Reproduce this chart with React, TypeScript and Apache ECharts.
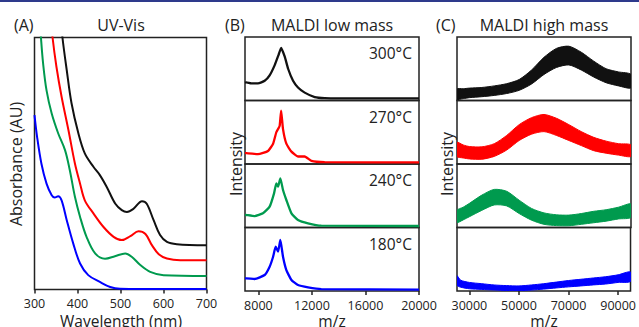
import React, { useEffect, useRef } from "react";
import * as echarts from "echarts";

const FONT = '"Open Sans", "Noto Sans", sans-serif';
const TEXT_COLOR = "#222222";
const FRAME_COLOR = "#222222";

const uvTicks = [300, 400, 500, 600, 700];
const lowMassTicks = [8000, 12000, 16000, 20000];
const highMassTicks = [30000, 50000, 70000, 90000];
const temperatures = ["300°C", "270°C", "240°C", "180°C"];
const colors = ["#111111", "#ff0000", "#009a4e", "#0000ff"];

// Panel A: UV-Vis spectra [wavelength nm, absorbance (arb.)]
const uvBlack = [
  [361, 108], [365, 100], [375, 87], [386, 74], [402, 62], [417, 54], [437, 48.7], [452, 45.4],
  [468, 40.7], [488, 34], [503, 31.5], [515, 30.8], [530, 32], [550, 35], [561, 34], [577, 27.5],
  [592, 21.6], [608, 18.9], [631, 18], [700, 17.6],
];
const uvRed = [
  [338, 108], [342, 100], [351, 88.4], [363, 76.5], [379, 63.2], [394, 50], [406, 42], [417, 35.4],
  [437, 30.2], [460, 24.9], [484, 20.9], [503, 19.6], [523, 21.2], [542, 23.1], [558, 22], [573, 17.6],
  [589, 14], [608, 12.3], [639, 11.6], [700, 11.6],
];
const uvGreen = [
  [312, 108], [315, 100], [320, 89.7], [328, 79], [340, 69.8], [355, 62], [371, 55.3], [382, 47.4],
  [394, 36.8], [406, 28.8], [421, 20.9], [441, 14.3], [464, 12.2], [487, 13.2], [511, 14.3], [526, 13],
  [546, 9.7], [569, 7], [600, 5.7], [700, 5.4],
];
const uvBlue = [
  [300, 69.2], [306, 60.6], [316, 50], [328, 42], [340, 37.4], [347, 36.5], [355, 37], [363, 35.4],
  [375, 27.5], [390, 18.3], [406, 10.3], [425, 5.7], [452, 3], [476, 1], [499, 0.3], [550, 0.2], [700, 0.2],
];

// Panel B: MALDI low mass [m/z, intensity %]
const low300 = [
  [7000, 28], [7100, 28.6], [7470, 27], [7970, 27], [8470, 31], [8840, 39.5], [9220, 55.7], [9510, 72],
  [9700, 83], [9970, 69], [10220, 50], [10590, 31], [10960, 20.5], [11460, 12.4], [12210, 5.4],
  [12950, 3.8], [15200, 3.2], [20000, 3.2],
];
const low270 = [
  [7000, 17], [7100, 17], [7970, 15.4], [8720, 20.5], [9100, 32], [9340, 50], [9470, 55], [9590, 60],
  [9700, 84], [9840, 55], [10090, 32], [10470, 19.5], [10960, 11.8], [11460, 11.8], [11960, 5],
  [12950, 3], [20000, 2.5],
];
const low240 = [
  [7000, 20], [7100, 19.7], [7720, 18], [8340, 22.3], [8840, 32.8], [9170, 53.8], [9340, 69.6],
  [9470, 64.3], [9640, 77.4], [9840, 59], [10090, 43.3], [10470, 22.3], [10960, 11.8], [11710, 6.6],
  [12700, 2.9], [20000, 2.4],
];
const low180 = [
  [7000, 20], [7100, 20], [7720, 18.9], [8470, 25.2], [8840, 38.3], [9100, 54], [9290, 69.8],
  [9470, 62], [9640, 80.3], [9840, 54], [10090, 33], [10470, 17.3], [10960, 9.4], [11710, 5.8],
  [12700, 3.1], [20000, 2.1],
];

// Panel C: MALDI high mass noisy bands [m/z, lower edge, upper edge]
const high300 = [
  [25000, 2, 18], [27500, 3, 18.5], [30000, 4.5, 19.5], [35000, 6, 20.5], [40000, 8, 23],
  [45000, 11, 26.5], [50000, 16, 33], [55000, 26, 48], [60000, 41, 68], [65000, 52, 82],
  [70000, 56, 85.5], [75000, 48, 76], [80000, 37, 62], [85000, 28, 50], [90000, 23, 45], [95000, 20, 41],
];
const high270 = [
  [25000, 12, 34], [27500, 9.5, 30], [30000, 8, 27.5], [35000, 7.5, 27], [40000, 12, 32],
  [45000, 22, 45], [50000, 37, 62], [55000, 47, 73], [60000, 51, 78], [65000, 45, 72],
  [70000, 37, 62], [75000, 29, 51], [80000, 21, 42], [85000, 17, 36], [90000, 14, 32], [95000, 12, 30],
];
const high240 = [
  [25000, 8, 27], [27500, 12, 32], [30000, 17, 38], [35000, 27, 51], [40000, 35.5, 60],
  [45000, 34, 57], [50000, 22, 43], [55000, 11.5, 30], [60000, 5, 23], [65000, 3, 20],
  [70000, 2.8, 19.5], [75000, 5, 22], [80000, 7.5, 25.5], [85000, 10, 28], [90000, 13.5, 32], [95000, 16, 37],
];
const high180 = [
  [25000, 9, 24], [26500, 6, 17], [30000, 3.5, 13.5], [35000, 2.5, 11.5], [40000, 1.6, 9.5],
  [45000, 0.8, 8.5], [50000, 0.5, 8], [55000, 1.5, 9.5], [60000, 3, 11.5], [65000, 4.8, 14],
  [70000, 6.5, 16.5], [75000, 8, 18.5], [80000, 9.6, 20.5], [85000, 11, 22.5], [90000, 13.5, 25.5], [95000, 15, 30],
];

const uvSeries = [uvBlack, uvRed, uvGreen, uvBlue];
const lowSeries = [low300, low270, low240, low180];
const highSeries = [high300, high270, high240, high180];

export default function App() {
  const ref = useRef<HTMLDivElement>(null);

  useEffect(() => {
    if (!ref.current) return;
    const chart = echarts.init(ref.current, null, { renderer: "svg" });

    const frame = { show: true, borderColor: FRAME_COLOR, borderWidth: 1.5, backgroundColor: "transparent" };
    const grids: any[] = [{ left: 34.5, top: 37.5, width: 172, height: 252, ...frame }];
    const subTop = 37;
    const subH = 63.5;
    for (let i = 0; i < 4; i++) grids.push({ left: 245, top: subTop + i * subH, width: 174, height: subH, ...frame });
    for (let i = 0; i < 4; i++) grids.push({ left: 457, top: subTop + i * subH, width: 174, height: subH, ...frame });

    const tickStyle = { show: true, inside: false, length: 4, lineStyle: { color: FRAME_COLOR, width: 1.5 } };
    const labelStyle = {
      color: TEXT_COLOR, fontSize: 12.5, fontFamily: FONT, lineHeight: 12,
      formatter: (v: number) => String(v),
    };

    const xAxes: any[] = [
      {
        gridIndex: 0, type: "value", min: uvTicks[0], max: uvTicks[uvTicks.length - 1], interval: 100,
        axisLine: { show: false }, splitLine: { show: false },
        axisTick: tickStyle, axisLabel: { ...labelStyle, margin: 8 },
      },
    ];
    for (let i = 0; i < 4; i++) {
      xAxes.push({
        gridIndex: 1 + i, type: "value", min: 7000, max: 20000,
        axisLine: { show: false }, splitLine: { show: false },
        axisTick: { ...tickStyle, show: i === 3, customValues: lowMassTicks },
        axisLabel: { ...labelStyle, show: i === 3, customValues: lowMassTicks, margin: 8 },
      });
    }
    for (let i = 0; i < 4; i++) {
      xAxes.push({
        gridIndex: 5 + i, type: "value", min: 25000, max: 95000,
        axisLine: { show: false }, splitLine: { show: false },
        axisTick: { ...tickStyle, show: i === 3, customValues: highMassTicks },
        axisLabel: { ...labelStyle, show: i === 3, customValues: highMassTicks, margin: 8 },
      });
    }
    const yAxes: any[] = [];
    for (let g = 0; g < 9; g++) yAxes.push({ gridIndex: g, type: "value", min: 0, max: 100, show: false });

    const series: any[] = [];
    uvSeries.forEach((d, i) => {
      series.push({
        type: "line", xAxisIndex: 0, yAxisIndex: 0, data: d, smooth: 0.35, showSymbol: false,
        lineStyle: { color: colors[i], width: 2 }, z: 3,
      });
    });
    lowSeries.forEach((d, i) => {
      series.push({
        type: "line", xAxisIndex: 1 + i, yAxisIndex: 1 + i, data: d, smooth: 0.15, showSymbol: false,
        lineStyle: { color: colors[i], width: 2.3 }, z: 3,
      });
    });
    highSeries.forEach((band, i) => {
      const color = colors[i];
      series.push({
        type: "custom", xAxisIndex: 5 + i, yAxisIndex: 5 + i, data: band, clip: true, z: 3,
        encode: { x: 0, y: [1, 2] },
        renderItem: (params: any, api: any) => {
          if (params.dataIndex !== 0) return null;
          const lower = band.map((p) => api.coord([p[0], p[1]]));
          const upper = band.map((p) => api.coord([p[0], p[2]])).reverse();
          return {
            type: "polygon",
            shape: { points: lower.concat(upper), smooth: 0.25 },
            style: { fill: color, stroke: color, lineWidth: 1 },
          };
        },
      });
    });

    const txt = (text: string, x: number, y: number, opts: any = {}) => ({
      type: "text", x, y, rotation: opts.rotation || 0, silent: true,
      style: {
        text, fill: TEXT_COLOR, font: `${opts.size || 16}px ${FONT}`,
        lineHeight: opts.lineHeight || undefined,
        align: opts.align || "center", verticalAlign: "middle",
      },
    });

    const graphics: any[] = [
      { type: "rect", shape: { x: 0, y: 0, width: 639, height: 2 }, style: { fill: "#2e3a8c" }, silent: true },
      txt("(A)", 14, 25, { align: "left" }),
      txt("UV-Vis", 121, 25),
      txt("(B)", 225, 25, { align: "left" }),
      txt("MALDI low mass", 332, 25),
      txt("(C)", 436, 25, { align: "left" }),
      txt("MALDI high mass", 544, 25),
      txt("Absorbance (AU)", 16, 164, { rotation: Math.PI / 2 }),
      txt("Intensity", 236, 164, { rotation: Math.PI / 2 }),
      txt("Intensity", 447, 164, { rotation: Math.PI / 2 }),
      txt("Wavelength (nm)", 121, 321, { lineHeight: 14, size: 15.5 }),
      txt("m/z", 332, 321, { lineHeight: 14, size: 15.5 }),
      txt("m/z", 544, 321, { lineHeight: 14, size: 15.5 }),
    ];
    temperatures.forEach((t, i) => graphics.push(txt(t, 412, 53 + i * subH, { align: "right", size: 15.5 })));

    chart.setOption({
      animation: false,
      backgroundColor: "#ffffff",
      grid: grids,
      xAxis: xAxes,
      yAxis: yAxes,
      series,
      graphic: graphics,
    });

    return () => chart.dispose();
  }, []);

  return <div ref={ref} style={{ position: "absolute", left: 0, top: 0, width: 639, height: 327 }} />;
}
